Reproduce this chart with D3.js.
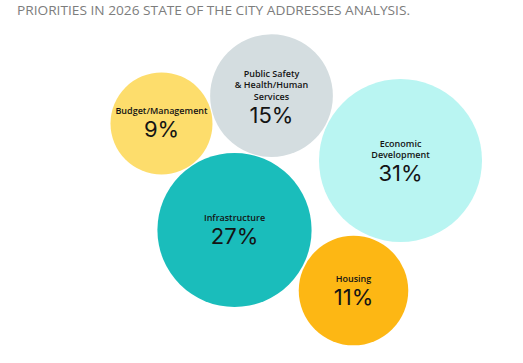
<!DOCTYPE html>
<html>
<head>
<meta charset="utf-8">
<script src="https://cdn.jsdelivr.net/npm/d3@7"></script>
<style>
  body { margin: 0; background: #fff; }
  svg { display: block; }
</style>
</head>
<body>
<svg id="chart" width="523" height="363"></svg>
<script>
// Data
const categories = ["Budget/Management", "Public Safety & Health/Human Services", "Economic Development", "Infrastructure", "Housing"];
const labelLines = [["Budget/Management"], ["Public Safety", "& Health/Human", "Services"], ["Economic", "Development"], ["Infrastructure"], ["Housing"]];
const shares = [9, 15, 31, 27, 11];
const colors = ["#fddd6c", "#d4dde0", "#b9f5f2", "#1abdbb", "#fdb714"];
// bubble placement in layout units (0-100)
const layoutX = [26.3, 48.3, 74.1, 40.9, 64.7];
const layoutY = [22.4, 15.2, 32.0, 50.0, 65.7];

const title = "PRIORITIES IN 2026 STATE OF THE CITY ADDRESSES ANALYSIS.";

const svg = d3.select("#chart");

svg.append("text")
    .attr("x", 17)
    .attr("y", 14.5)
    .attr("fill", "#7d7d7d")
    .attr("textLength", 393)
    .attr("lengthAdjust", "spacingAndGlyphs")
    .style("font-family", "'Open Sans', sans-serif")
    .style("font-size", "12px")
    .text(title);

// Scales
const x = d3.scaleLinear().domain([0, 100]).range([30, 530]);
const y = d3.scaleLinear().domain([0, 100]).range([37, 423]);
const r = d3.scaleSqrt().domain([9, 31]).range([51, 81.5]);

const data = categories.map((c, i) => ({
    name: c,
    lines: labelLines[i],
    value: shares[i],
    color: colors[i],
    cx: x(layoutX[i]),
    cy: y(layoutY[i])
}));

const bubbles = svg.selectAll("g.bubble")
    .data(data)
    .join("g")
    .attr("class", "bubble")
    .attr("transform", d => `translate(${d.cx},${d.cy})`);

bubbles.append("circle")
    .attr("r", d => r(d.value))
    .attr("fill", d => d.color);

bubbles.each(function(d) {
    const g = d3.select(this);
    const n = d.lines.length;
    const first = -9 - (n - 1) * 5;
    d.lines.forEach((line, i) => {
        g.append("text")
            .attr("text-anchor", "middle")
            .attr("y", first + i * 11.5)
            .attr("fill", "#141414")
            .style("font-family", "'Open Sans', sans-serif")
            .style("font-size", "9px")
            .style("font-weight", 600)
            .text(line);
    });
    g.append("text")
        .attr("text-anchor", "middle")
        .attr("y", first + (n - 1) * 11.5 + 23)
        .attr("fill", "#141414")
        .style("font-family", "Inter, sans-serif")
        .style("font-size", "22px")
        .style("font-weight", 400)
        .text(d.value + "%");
});
</script>
</body>
</html>
